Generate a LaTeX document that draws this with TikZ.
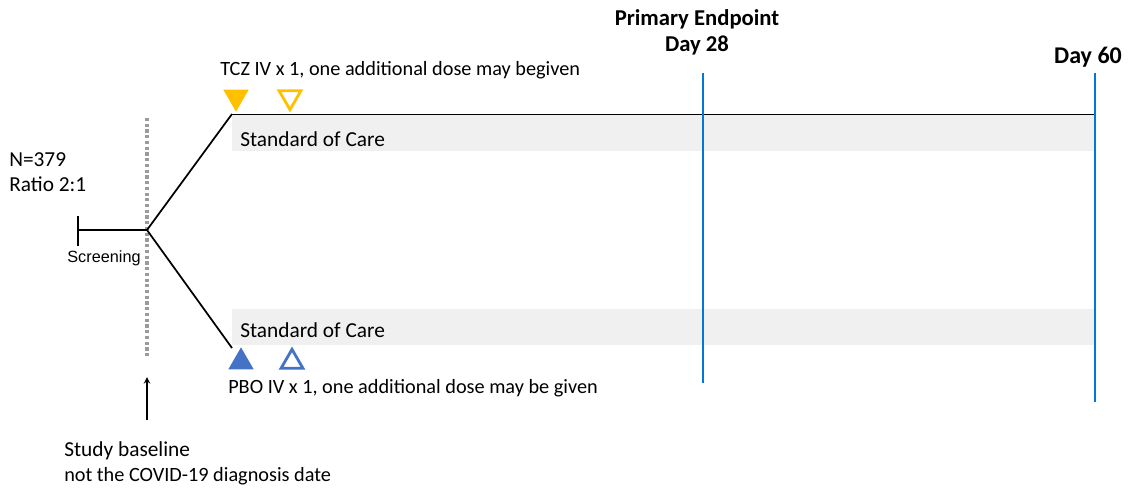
\documentclass[tikz,border=0pt]{standalone}
\usepackage{fontspec}
\setmainfont{Carlito}
\newfontfamily\arialfont{Liberation Sans}
\usetikzlibrary{shapes.geometric}

\definecolor{tczgold}{RGB}{255,192,0}
\definecolor{pboblue}{RGB}{68,114,196}
\definecolor{dayblue}{RGB}{0,120,215}
\definecolor{socgrey}{RGB}{240,240,240}
\definecolor{basegrey}{RGB}{155,155,155}

\begin{document}
\begin{tikzpicture}[x=0.75pt,y=-0.75pt,
  txt/.style={inner sep=0pt,anchor=west,font=\fontsize{16}{18}\selectfont},
  small/.style={inner sep=0pt,anchor=west,font=\fontsize{15.2}{17}\selectfont},
  head/.style={inner sep=0pt,font=\fontsize{17}{19}\selectfont\bfseries},
  dose/.style={regular polygon,regular polygon sides=3,minimum size=22pt,inner sep=0pt,line width=2.1pt},
  dayline/.style={dayblue,line width=2.2pt},
  arm/.style={black,line width=1.3pt}]

\useasboundingbox (0,0) rectangle (1128,487);

% standard of care bands
\fill[socgrey] (232,115) rectangle (1095,151);
\fill[socgrey] (232,309) rectangle (1095,345);
\node[txt] (soctop) at (240,139) {Standard of Care};
\node[txt] (socbot) at (240,330) {Standard of Care};

% time points
\coordinate (split) at (147,230);
\coordinate (armtop) at (232,114);
\coordinate (armbot) at (232,348);
\coordinate (armend) at (1095,114);
\coordinate (scrstart) at (78,230);

\draw[basegrey,line width=2.5pt,dash pattern=on 2.4pt off 1.9pt] (147,118) -- (147,356);

% screening and randomisation
\draw[arm] (scrstart) -- (split);
\draw[arm] (78,216) -- (78,246);
\node[inner sep=0pt,font=\arialfont\fontsize{12.2}{14}\selectfont] (screen) at (104,258) {Screening};
\draw[arm] (split) -- (armtop);
\draw[arm] (split) -- (armbot);
\draw[black,line width=0.7pt] (armtop) -- (armend);

\node[txt] (n) at (9,160) {N=379};
\node[txt] (ratio) at (9,184) {Ratio 2:1};

% day 28 and day 60
\coordinate (d28a) at (703,73);
\coordinate (d28b) at (703,383);
\coordinate (d60a) at (1095,73);
\coordinate (d60b) at (1095,402);
\draw[dayline] (d28a) -- (d28b);
\draw[dayline] (d60a) -- (d60b);
\node[head] (prim) at (697,19) {Primary Endpoint};
\node[head] (d28) at (697,45) {Day 28};
\node[head,font=\fontsize{18}{20}\selectfont\bfseries] (d60) at (1088,57) {Day 60};

% TCZ arm doses
\node[small] (tcz) at (220,70) {TCZ IV x 1, one additional dose may begiven};
\node[dose,fill=tczgold,shape border rotate=180] (tcz1) at (236,97) {};
\node[dose,draw=tczgold,shape border rotate=180,minimum size=19pt] (tcz2) at (290,97) {};

% PBO arm doses
\node[dose,fill=pboblue] (pbo1) at (241,362) {};
\node[dose,draw=pboblue,minimum size=19pt] (pbo2) at (292,362) {};
\node[small] (pbo) at (228,388) {PBO IV x 1, one additional dose may be given};

% study baseline
\node[txt] (base) at (64,451) {Study baseline};
\node[small] (notdx) at (64,476) {not the COVID-19 diagnosis date};
\draw[->,>=stealth,line width=1.2pt] (147,420) -- (147,377);

\end{tikzpicture}
\end{document}
